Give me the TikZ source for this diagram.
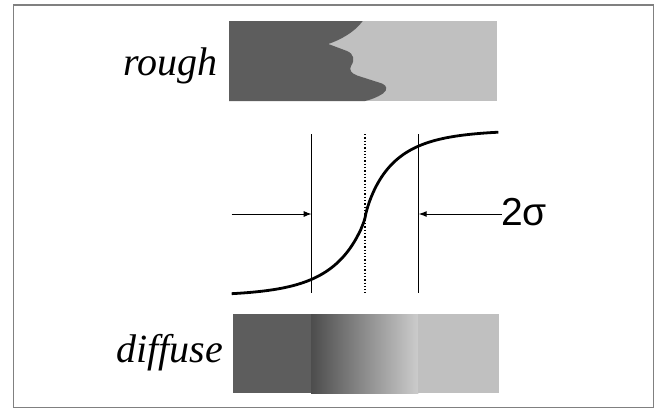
\documentclass[tikz,border=0pt]{standalone}
\usepackage{fontspec}
\setmainfont{Liberation Serif}
\newfontfamily\sigfont{Liberation Sans}
\usetikzlibrary{arrows.meta}
\definecolor{darkgray}{HTML}{5D5D5D}
\definecolor{lightgray}{HTML}{C0C0C0}
\definecolor{framegray}{HTML}{808080}
\tikzset{
  vline/.style={line width=1pt, black},
  dimarrow/.style={line width=1pt, -{Latex[length=8pt,width=6pt]}},
  curve/.style={line width=2.8pt, black, line join=round},
  lbl/.style={inner sep=0pt, font=\fontsize{40}{42}\selectfont\itshape, anchor=base west},
}
\begin{document}
\begin{tikzpicture}[x=1pt,y=-1pt]
\useasboundingbox (0,0) rectangle (660,413);
\fill[white] (0,0) rectangle (660,413);
\draw[framegray, line width=1.2pt] (13.5,5) rectangle (653.5,407.5);

% rough bar
\fill[lightgray] (229,21) rectangle (497,101);
\fill[darkgray] (229,21) -- (362.7,21)
  .. controls (355,32) and (340,40) .. (328.3,44)
  -- (347,51)
  .. controls (354,54) and (355,60) .. (351,66)
  .. controls (349,70) and (351,73) .. (357,75.5)
  -- (382,83.5)
  .. controls (387,85.5) and (388,90) .. (383,93.5)
  .. controls (378,97) and (370,100) .. (365,101)
  -- (229,101) -- cycle;
\node[lbl] (rough) at (123,75) {rough};

% diffuse bar
\fill[darkgray] (232.7,314.3) rectangle (311,393.3);
\shade[left color=black!70, right color=black!20] (311,314.3) rectangle (418.3,393.3);
\fill[lightgray] (418.3,314.3) rectangle (499.3,393.3);
\node[lbl] (diffuse) at (116,362.3) {diffuse};

% vertical lines
\coordinate (l1) at (311.7,134);
\coordinate (l2) at (311.7,293);
\coordinate (m1) at (365,134);
\coordinate (m2) at (365,293);
\coordinate (r1) at (418.7,134);
\coordinate (r2) at (418.7,293);
\draw[vline] (l1) -- (l2);
\draw[vline] (r1) -- (r2);
\draw[line width=1.3pt, dotted] (m1) -- (m2);

% sigmoid curve
\draw[curve]
  plot[domain=231.7:364.99, samples=160] (\x, {218+78*(1-exp(-pow((365-\x)/33,0.9)))})
  -- plot[domain=365.01:498.3, samples=160] (\x, {218-88*(1-exp(-pow((\x-365)/28.7,0.85)))});

% arrows
\coordinate (a1) at (231.7,214);
\coordinate (a2) at (311.7,214);
\node[inner sep=0pt, anchor=base west, font=\sigfont\fontsize{39}{40}\selectfont] (sig) at (501,225) {2σ};
\coordinate (a3) at (501.5,214);
\coordinate (a4) at (418.7,214);
\draw[dimarrow] (a1) -- (a2);
\draw[dimarrow] (a3) -- (a4);
\end{tikzpicture}
\end{document}
